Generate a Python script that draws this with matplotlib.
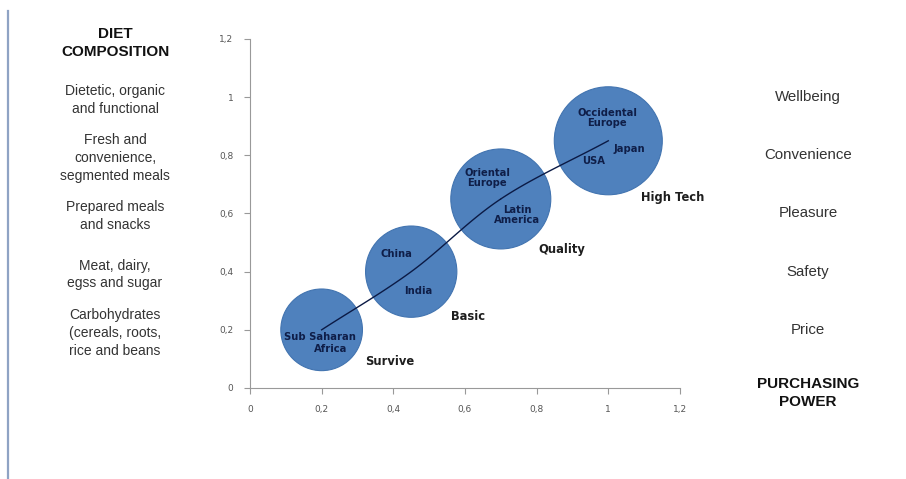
import numpy as np
import matplotlib
matplotlib.use("Agg")
import matplotlib.pyplot as plt
import matplotlib.transforms as mtransforms
from matplotlib.lines import Line2D

# bubbles: purchasing power (x), diet level (y), relative bubble size
bubble_x = [0.2, 0.45, 0.7, 1.0]
bubble_y = [0.2, 0.4, 0.65, 0.85]
bubble_size = [1.0, 1.25, 1.5, 1.75]

# stage names next to each bubble
stage_names = ["Survive", "Basic", "Quality", "High Tech"]
stage_pos = [(0.39, 0.09), (0.61, 0.245), (0.87, 0.475), (1.18, 0.655)]

# region labels inside the bubbles
region_names = ["Sub Saharan", "Africa", "China", "India", "Oriental\nEurope",
                "Latin\nAmerica", "Occidental\nEurope", "Japan", "USA"]
region_pos = [(0.195, 0.175), (0.225, 0.133), (0.41, 0.462), (0.47, 0.335),
              (0.662, 0.722), (0.745, 0.595), (0.997, 0.929), (1.06, 0.822),
              (0.958, 0.782)]

# text beside the y axis
diet_labels = ["Dietetic, organic\nand functional",
               "Fresh and\nconvenience,\nsegmented meals",
               "Prepared meals\nand snacks",
               "Meat, dairy,\negss and sugar",
               "Carbohydrates\n(cereals, roots,\nrice and beans"]
driver_labels = ["Wellbeing", "Convenience", "Pleasure", "Safety", "Price"]
label_levels = [1.0, 0.8, 0.6, 0.4, 0.2]

ticks = [0, 0.2, 0.4, 0.6, 0.8, 1.0, 1.2]
tick_text = ["0", "0,2", "0,4", "0,6", "0,8", "1", "1,2"]


def catmull_rom(xs, ys, n=40):
    # smooth line through the points, like an office "smoothed line"
    p = np.column_stack([xs, ys])
    p = np.vstack([2 * p[0] - p[1], p, 2 * p[-1] - p[-2]])
    out = []
    for i in range(1, len(p) - 2):
        p0, p1, p2, p3 = p[i - 1], p[i], p[i + 1], p[i + 2]
        t = np.linspace(0, 1, n)[:, None]
        seg = 0.5 * ((2 * p1) + (-p0 + p2) * t + (2 * p0 - 5 * p1 + 4 * p2 - p3) * t ** 2
                     + (-p0 + 3 * p1 - 3 * p2 + p3) * t ** 3)
        out.append(seg)
    c = np.vstack(out)
    return c[:, 0], c[:, 1]


fig = plt.figure(figsize=(9.06, 4.79), dpi=100)
ax = fig.add_axes([0.2759, 0.19, 0.4746, 0.7286])

dpi = fig.dpi
r_max = 54  # pixel radius of the biggest bubble
radii = [r_max * np.sqrt(s / max(bubble_size)) for s in bubble_size]
s_pts = [(2 * r * 72 / dpi) ** 2 for r in radii]
ax.scatter(bubble_x, bubble_y, s=s_pts, color="#4f81bd", edgecolors="#4274b0",
           linewidths=0.8, zorder=2, clip_on=False)

cx, cy = catmull_rom(bubble_x, bubble_y)
ax.plot(cx, cy, color="#0b1a45", lw=1.0, zorder=3)

for name, (x, y) in zip(region_names, region_pos):
    ax.text(x, y, name, ha="center", va="center", fontsize=7.2, fontweight="bold",
            color="#0f1e48", linespacing=1.05, zorder=4)

for name, (x, y) in zip(stage_names, stage_pos):
    ax.text(x, y, name, ha="center", va="center", fontsize=8.3, fontweight="bold",
            color="#1e1e1e", clip_on=False, zorder=4)

ax.set_xlim(0, 1.2)
ax.set_ylim(0, 1.2)
ax.set_xticks(ticks)
ax.set_xticklabels(tick_text)
ax.set_yticks(ticks)
ax.set_yticklabels(tick_text)
ax.tick_params(labelsize=6.5, labelcolor="#555555", color="#999999", length=4,
               width=0.8, direction="out")
ax.tick_params(axis="x", pad=8)
ax.tick_params(axis="y", pad=8)
for side in ["top", "right"]:
    ax.spines[side].set_visible(False)
for side in ["left", "bottom"]:
    ax.spines[side].set_color("#999999")
    ax.spines[side].set_linewidth(0.8)

# side columns: x in figure fraction, y in data units
tr = mtransforms.blended_transform_factory(fig.transFigure, ax.transData)
side_font = dict(family=["Liberation Sans", "DejaVu Sans"], fontsize=10,
                 color="#333333", ha="center", va="center", linespacing=1.35)
for txt, lvl in zip(diet_labels, label_levels):
    fig.text(115 / 906, lvl - 0.01, txt, transform=tr, **side_font)
for txt, lvl in zip(driver_labels, label_levels):
    fig.text(808 / 906, lvl, txt, transform=tr, **dict(side_font, fontsize=10.8))

head_font = dict(side_font, fontsize=11, fontweight="bold", color="#111111",
                 linespacing=1.3)
fig.text(115 / 906, 1 - 43 / 479, "DIET\nCOMPOSITION", **head_font)
fig.text(808 / 906, 1 - 393 / 479, "PURCHASING\nPOWER", **head_font)

# thin rule down the left edge of the slide
fig.add_artist(Line2D([8 / 906, 8 / 906], [0, 1 - 11 / 479], transform=fig.transFigure,
                      color="#8fa3c4", lw=1.6))

fig.savefig("out.png", dpi=100, facecolor="white")
